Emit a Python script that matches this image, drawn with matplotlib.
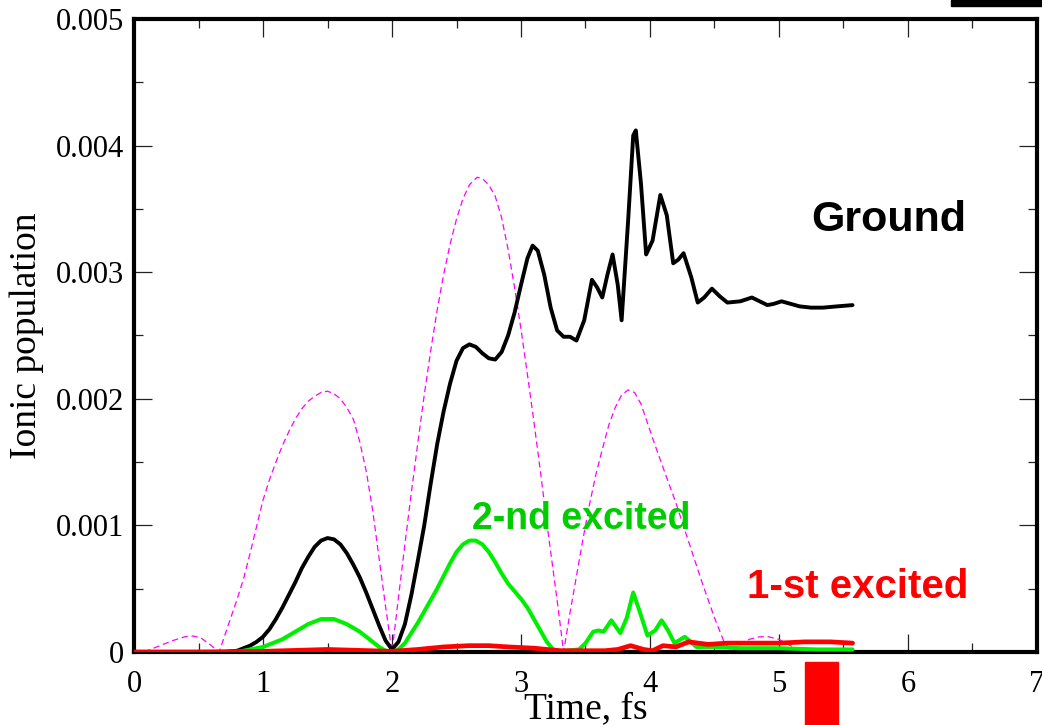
import matplotlib
matplotlib.use("Agg")
import matplotlib.pyplot as plt
from matplotlib.ticker import MultipleLocator, FixedLocator
from matplotlib.patches import Rectangle

# Time axis (fs) and ionic populations
field_t = [0.08, 0.2, 0.3, 0.4, 0.46, 0.52, 0.6, 0.66,
           0.7, 0.75, 0.8, 0.85, 0.9, 0.95, 1.0, 1.05, 1.1, 1.15, 1.2, 1.25, 1.3, 1.35, 1.4,
           1.45, 1.5, 1.55, 1.6, 1.65, 1.7, 1.75, 1.8, 1.85, 1.9, 1.95, 2.0,
           2.05, 2.1, 2.15, 2.2, 2.25, 2.3, 2.35, 2.4, 2.45, 2.5, 2.55, 2.6, 2.66, 2.7, 2.75,
           2.8, 2.85, 2.9, 2.95, 3.0, 3.05, 3.1, 3.15, 3.2, 3.25, 3.29, 3.33,
           3.38, 3.43, 3.48, 3.53, 3.58, 3.63, 3.68, 3.73, 3.78, 3.83, 3.88, 3.93, 3.98, 4.03,
           4.1, 4.2, 4.3, 4.4, 4.5, 4.57, 4.63,
           4.7, 4.77, 4.85, 4.92, 5.0, 5.07, 5.13, 5.19]
field_env = [0, 0.00005, 0.00009, 0.000122, 0.000126, 0.00011, 0.00005, 0,
             0.00012, 0.00027, 0.00042, 0.00058, 0.00078, 0.00099, 0.0012, 0.00136, 0.0015,
             0.00163, 0.00174, 0.00184, 0.00192, 0.00198, 0.00202, 0.00205, 0.00206, 0.00204,
             0.002, 0.00193, 0.00184, 0.00166, 0.00143, 0.00112, 0.00074, 0.00036, 0,
             0.00043, 0.00085, 0.00126, 0.00165, 0.00203, 0.00238, 0.0027, 0.00298, 0.00322,
             0.00342, 0.00358, 0.00369, 0.00375, 0.00374, 0.00369, 0.0036, 0.00343, 0.00318,
             0.00288, 0.00255, 0.00219, 0.00182, 0.00143, 0.00102, 0.00064, 0.00033, 0,
             0.00031, 0.0006, 0.00089, 0.00116, 0.0014, 0.0016, 0.00179, 0.00193, 0.00203,
             0.00207, 0.00205, 0.00196, 0.00181, 0.00166, 0.00146, 0.00118, 0.00087, 0.00056,
             0.00027, 0.00009, 0,
             0.00006, 0.0001, 0.00012, 0.00012, 0.0001, 0.00006, 0.00003, 0]

ground_t = [0, 0.7, 0.75, 0.8, 0.85, 0.9, 0.95, 1.0, 1.05, 1.1, 1.15, 1.2, 1.25, 1.3, 1.35,
            1.4, 1.45, 1.5, 1.55, 1.6, 1.65, 1.7, 1.75, 1.8, 1.85, 1.9, 1.95, 2.0, 2.05, 2.1,
            2.15, 2.2, 2.25, 2.3, 2.35, 2.4, 2.45, 2.5, 2.55, 2.6, 2.65, 2.7, 2.75, 2.8, 2.85,
            2.9, 2.95, 3.0, 3.05, 3.09, 3.13, 3.18, 3.23, 3.28, 3.33, 3.38, 3.43, 3.49, 3.55,
            3.59, 3.63, 3.67, 3.71, 3.75, 3.78, 3.83, 3.87, 3.89, 3.93, 3.97, 4.02, 4.08, 4.13,
            4.18, 4.22, 4.26, 4.32, 4.37, 4.42, 4.48, 4.54, 4.6, 4.7, 4.79, 4.85, 4.91, 4.96,
            5.02, 5.09, 5.16, 5.25, 5.34, 5.45, 5.57]
ground_pop = [0, 0, 0.000005, 0.00001, 0.00003, 0.00005, 0.00008, 0.00012, 0.00018, 0.00026,
              0.00035, 0.00045, 0.00055, 0.00066, 0.00075, 0.00083, 0.00088, 0.0009, 0.00089,
              0.00085, 0.00078, 0.00069, 0.00059, 0.00047, 0.00034, 0.00021, 0.00009, 0.00002,
              0.00008, 0.00022, 0.00045, 0.00072, 0.001, 0.00133, 0.00164, 0.0019, 0.00212,
              0.0023, 0.0024, 0.00243, 0.00241, 0.00236, 0.00232, 0.00231, 0.00237, 0.0025,
              0.00268, 0.0029, 0.00311, 0.00321, 0.00317, 0.00298, 0.00272, 0.00254, 0.00249,
              0.00249, 0.00246, 0.00262, 0.00294, 0.00288, 0.0028, 0.00298, 0.00314, 0.0029,
              0.00262, 0.0034, 0.00408, 0.00412, 0.0037, 0.00314, 0.00325, 0.00361, 0.00345,
              0.00307, 0.0031, 0.00315, 0.00296, 0.00276, 0.0028, 0.00287, 0.00281, 0.00276,
              0.00277, 0.0028, 0.00277, 0.00274, 0.00275, 0.00277, 0.00275, 0.00273, 0.00272,
              0.00272, 0.00273, 0.00274]

second_t = [0, 0.8, 0.85, 0.9, 0.95, 1.0, 1.05, 1.1, 1.15, 1.2, 1.25, 1.3, 1.35, 1.4, 1.45,
            1.5, 1.55, 1.6, 1.65, 1.7, 1.75, 1.8, 1.85, 1.9, 1.95, 2.0, 2.05, 2.1, 2.15, 2.2,
            2.25, 2.3, 2.35, 2.4, 2.45, 2.5, 2.55, 2.6, 2.65, 2.7, 2.75, 2.8, 2.85, 2.9, 2.95,
            3.0, 3.05, 3.1, 3.15, 3.2, 3.25, 3.3, 3.35, 3.45, 3.5, 3.56, 3.6, 3.64, 3.7, 3.77,
            3.82, 3.87, 3.92, 3.98, 4.04, 4.09, 4.14, 4.19, 4.27, 4.36, 4.49, 4.7, 5.0, 5.3,
            5.57]
second_pop = [0, 0, 0.00001, 0.00002, 0.00003, 0.00004, 0.00006, 0.00008, 0.0001, 0.00013,
              0.00016, 0.00019, 0.00022, 0.00024, 0.00026, 0.00026, 0.00026, 0.00024, 0.00022,
              0.00019, 0.00016, 0.00012, 0.00008, 0.00004, 0.00001, 0, 0.00002, 0.00007,
              0.00015, 0.00023, 0.00032, 0.00041, 0.0005, 0.0006, 0.0007, 0.00079, 0.00085,
              0.00088, 0.00088, 0.00085, 0.00079, 0.00071, 0.00062, 0.00054, 0.00048, 0.00042,
              0.00035, 0.00026, 0.00017, 0.00008, 0.00002, 0.00001, 0.00001, 0.00002, 0.00007,
              0.00016, 0.00017, 0.00016, 0.00025, 0.00015, 0.00027, 0.00047, 0.00032, 0.00013,
              0.00017, 0.00025, 0.00017, 0.00007, 0.00012, 0.00004, 0.00004, 0.00003, 0.00003,
              0.00002, 0.00002]

first_t = [0, 0.5, 1.0, 1.5, 2.0, 2.2, 2.4, 2.6, 2.75, 2.9, 3.1, 3.3, 3.5, 3.65, 3.75, 3.85,
           3.95, 4.02, 4.1, 4.2, 4.3, 4.45, 4.6, 4.8, 5.0, 5.2, 5.4, 5.57]
first_pop = [0, 0, 0.000005, 0.00002, 0.000005, 0.00002, 0.00004, 0.00005, 0.00005, 0.00004,
             0.00003, 0.00001, 0.00001, 0.00001, 0.00002, 0.00005, 0.00002, 0.00001, 0.00005,
             0.00004, 0.00008, 0.00006, 0.00007, 0.00007, 0.00007, 0.00008, 0.00008, 0.00007]

x_ticks = [0, 1, 2, 3, 4, 5, 6, 7]
y_ticks = [0, 0.001, 0.002, 0.003, 0.004, 0.005]
y_tick_labels = ["0", "0.001", "0.002", "0.003", "0.004", "0.005"]

serif = ["Liberation Serif", "DejaVu Serif"]
sans = ["Liberation Sans", "DejaVu Sans"]

fig = plt.figure(figsize=(10.42, 7.25), dpi=100)
ax = fig.add_axes([0.1286, 0.1007, 0.8666, 0.8731])

ax.plot(field_t, field_env, color="#ff00ff", lw=0.9, dashes=(5, 3), zorder=2)
ax.plot(ground_t, ground_pop, color="black", lw=2.8, zorder=3,
        solid_joinstyle="round", solid_capstyle="round")
ax.plot(second_t, second_pop, color="#00ee00", lw=2.9, zorder=4,
        solid_joinstyle="round", solid_capstyle="round")
ax.plot(first_t, first_pop, color="#ff0000", lw=3.4, zorder=5,
        solid_joinstyle="round", solid_capstyle="round")

ax.set_xlim(0, 7)
ax.set_ylim(0, 0.005)
ax.xaxis.set_major_locator(FixedLocator(x_ticks))
ax.xaxis.set_minor_locator(MultipleLocator(0.5))
ax.yaxis.set_major_locator(FixedLocator(y_ticks))
ax.yaxis.set_minor_locator(MultipleLocator(0.0005))
ax.set_xticklabels([str(v) for v in x_ticks], fontfamily=serif, fontsize=22)
ax.set_yticklabels(y_tick_labels, fontfamily=serif, fontsize=22)

ax.tick_params(which="both", direction="in", top=True, right=True, width=0.9, color="#222222")
ax.tick_params(which="major", length=13)
ax.tick_params(which="minor", length=6.5)
ax.tick_params(axis="y", which="major", pad=7)
ax.tick_params(axis="x", which="major", pad=13)

for s in ax.spines.values():
    s.set_linewidth(3)

ax.set_xlabel("Time, fs", fontfamily=serif, fontsize=27, labelpad=-5)
ax.set_ylabel("Ionic population", fontfamily=serif, fontsize=27, labelpad=9)

ax.text(5.85, 0.00341, "Ground", fontfamily=sans, fontweight="bold", fontsize=31,
        color="black", ha="center", va="center")
ax.text(3.47, 0.00105, "2-nd excited", fontfamily=sans, fontweight="bold", fontsize=27,
        color="#00cc00", ha="center", va="center")
ax.text(5.61, 0.00051, "1-st excited", fontfamily=sans, fontweight="bold", fontsize=29,
        color="#ff0000", ha="center", va="center")

# decorative marks outside the axes
fig.patches.append(Rectangle((951 / 1042, 1 - 6 / 725), 91 / 1042, 6 / 725,
                             transform=fig.transFigure, color="black", zorder=10))
fig.patches.append(Rectangle((805 / 1042, 0), 33 / 1042, 63 / 725,
                             transform=fig.transFigure, color="#ff0000", zorder=10))

fig.savefig("out.png", dpi=100)
